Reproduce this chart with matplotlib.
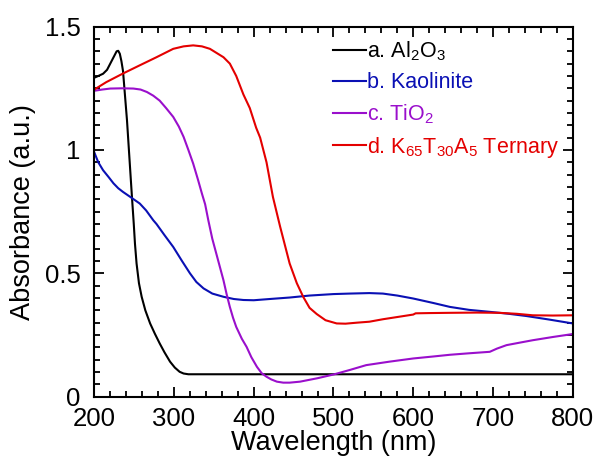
import matplotlib
matplotlib.use("Agg")
import matplotlib.pyplot as plt
from matplotlib.ticker import MultipleLocator

plt.rcParams['font.family'] = ['Liberation Sans', 'DejaVu Sans']
plt.rcParams['mathtext.fontset'] = 'custom'
plt.rcParams['mathtext.rm'] = 'Liberation Sans'
plt.rcParams['mathtext.it'] = 'Liberation Sans'

# a. Al2O3
wl_a = [200, 205, 211, 216, 220, 224, 228, 230, 232, 234, 236, 238, 241, 244, 247, 249.5, 251, 253, 256, 259.4,
        264, 270, 276, 282, 288, 295, 301, 307, 312, 318, 400, 500, 600, 700, 800]
ab_a = [1.293, 1.30, 1.309, 1.325, 1.35, 1.375, 1.40, 1.402, 1.39, 1.36, 1.32, 1.24, 1.12, 0.97, 0.82, 0.70, 0.62, 0.54, 0.46, 0.405,
        0.35, 0.297, 0.255, 0.216, 0.18, 0.142, 0.118, 0.101, 0.094, 0.091, 0.091, 0.091, 0.091, 0.091, 0.091]

# b. Kaolinite
wl_b = [200, 205, 211, 218, 224, 230, 236, 245, 257, 265, 274, 278, 288, 299, 310, 320, 328, 337, 348, 362, 375, 387, 400,
        420, 445, 470, 500, 520, 545, 562, 580, 600, 625, 646, 670, 696, 720, 742, 770, 800]
ab_b = [0.99, 0.95, 0.918, 0.89, 0.865, 0.845, 0.83, 0.81, 0.783, 0.755, 0.715, 0.70, 0.655, 0.607, 0.55, 0.50, 0.465, 0.439, 0.418, 0.405, 0.396, 0.392, 0.391,
        0.396, 0.402, 0.41, 0.416, 0.418, 0.42, 0.418, 0.41, 0.398, 0.38, 0.364, 0.352, 0.344, 0.336, 0.327, 0.313, 0.297]

# c. TiO2
wl_c = [200, 210, 220, 235, 249, 258, 266, 274, 282, 290, 299, 306, 312, 318, 324, 330, 335, 339, 343, 348, 353, 358, 362,
        366, 370, 374, 378, 385, 391, 397, 404, 410, 416, 422, 429, 437, 445, 458, 480, 500, 520, 541, 570, 600, 625, 646,
        670, 696, 705, 717, 735, 750, 775, 800]
ab_c = [1.24, 1.245, 1.249, 1.25, 1.249, 1.245, 1.235, 1.22, 1.20, 1.17, 1.134, 1.095, 1.053, 1.0, 0.945, 0.88, 0.823, 0.78, 0.715, 0.64, 0.58, 0.52, 0.472,
        0.415, 0.364, 0.32, 0.283, 0.235, 0.202, 0.16, 0.121, 0.095, 0.081, 0.07, 0.061, 0.057, 0.057, 0.061, 0.075, 0.09, 0.108, 0.128, 0.142, 0.155, 0.163, 0.17,
        0.176, 0.182, 0.195, 0.209, 0.22, 0.229, 0.242, 0.254]

# d. K65T30A5 ternary
wl_d = [200, 215, 236, 255, 278, 299, 312, 324, 335, 345, 355, 362, 370, 378, 387, 395, 403, 408, 416, 424, 433, 445, 454,
        462, 470, 479, 490, 504, 515, 529, 545, 562, 580, 600, 603, 620, 646, 680, 708, 730, 750, 775, 800]
ab_d = [1.245, 1.275, 1.31, 1.34, 1.376, 1.41, 1.42, 1.424, 1.42, 1.41, 1.39, 1.376, 1.35, 1.30, 1.225, 1.17, 1.09, 1.05, 0.95, 0.81, 0.69, 0.54, 0.46,
        0.405, 0.36, 0.335, 0.31, 0.297, 0.296, 0.30, 0.304, 0.314, 0.323, 0.333, 0.338, 0.339, 0.34, 0.341, 0.34, 0.336, 0.33, 0.329, 0.33]

labels = [r'a. Al$_2$O$_3$', 'b. Kaolinite', r'c. TiO$_2$', r'd. K$_{65}$T$_{30}$A$_5$ Ternary']
colors = ['black', '#0a10b4', '#9a0fcc', '#e40000']

fig = plt.figure(figsize=(5.95, 4.59), dpi=100)
ax = fig.add_axes([0.1585, 0.1357, 0.804, 0.8063])

for x, y, lab, c in zip([wl_a, wl_b, wl_c, wl_d], [ab_a, ab_b, ab_c, ab_d], labels, colors):
    ax.plot(x, y, color=c, lw=1.5, label=lab)

ax.set_xlim(200, 800)
ax.set_ylim(0, 1.5)
ax.xaxis.set_major_locator(MultipleLocator(100))
ax.xaxis.set_minor_locator(MultipleLocator(20))
ax.set_yticks([0, 0.5, 1, 1.5])
ax.set_yticklabels(['0', '0.5', '1', '1.5'])
ax.yaxis.set_minor_locator(MultipleLocator(0.05))
ax.tick_params(which='both', direction='in', top=True, right=True, labelsize=18.5, width=1.3)
ax.tick_params(which='major', length=7)
ax.tick_params(which='minor', length=4)
ax.tick_params(axis='x', which='major', pad=7.5)
ax.tick_params(axis='y', which='major', pad=10)
for s in ax.spines.values():
    s.set_linewidth(1.5)

ax.set_xlabel('Wavelength (nm)', fontsize=19.5, labelpad=-1)
ax.set_ylabel('Absorbance (a.u.)', fontsize=19.5, labelpad=6)

leg = ax.legend(loc='upper left', bbox_to_anchor=(0.499, 0.965), frameon=False, fontsize=15.5,
                handlelength=1.55, handletextpad=0.05, labelspacing=0.42, borderaxespad=0, borderpad=0)
for t, c in zip(leg.get_texts(), colors):
    t.set_color(c)

fig.savefig('out.png', dpi=100)
